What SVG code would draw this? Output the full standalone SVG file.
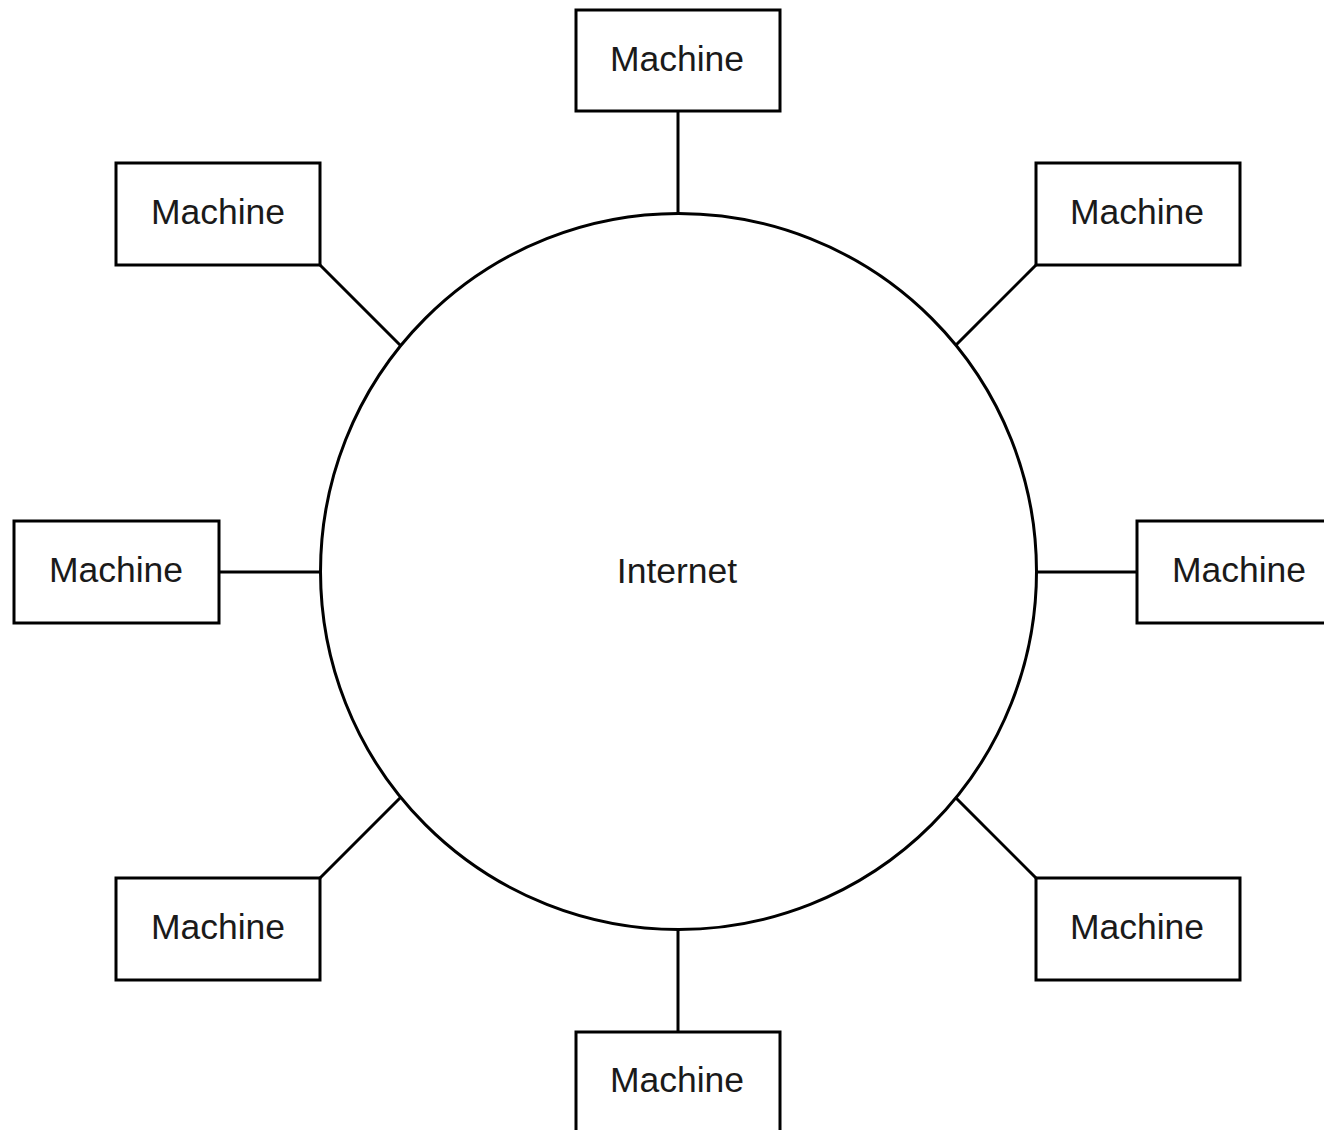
<svg xmlns="http://www.w3.org/2000/svg" width="1324" height="1130" viewBox="0 0 1324 1130">
<style>
.box{fill:#fff;stroke:#000;stroke-width:3}
.lbl{font-family:"Liberation Sans",Arial,sans-serif;font-size:35.5px;fill:#1a1a1a;text-anchor:middle}
.con{stroke:#000;stroke-width:3;fill:none}
</style>
<rect width="1324" height="1130" fill="#fff"/>
<g id="connectors">
<line class="con" x1="678" y1="111" x2="678" y2="213"/>
<line class="con" x1="678" y1="930" x2="678" y2="1032"/>
<line class="con" x1="219" y1="572" x2="321" y2="572"/>
<line class="con" x1="1036" y1="572" x2="1137" y2="572"/>
<line class="con" x1="320" y1="265" x2="401" y2="346"/>
<line class="con" x1="1036" y1="265" x2="956" y2="345"/>
<line class="con" x1="320" y1="878" x2="401" y2="797"/>
<line class="con" x1="1036" y1="878" x2="956" y2="798"/>
</g>
<g id="internet">
<circle cx="678.5" cy="571.5" r="358" fill="#fff" stroke="#000" stroke-width="3"/>
<text class="lbl" x="677" y="583">Internet</text>
</g>
<g id="machine-top"><rect class="box" x="576" y="10" width="204" height="101"/><text class="lbl" x="677" y="71">Machine</text></g>
<g id="machine-topleft"><rect class="box" x="116" y="163" width="204" height="102"/><text class="lbl" x="218" y="224">Machine</text></g>
<g id="machine-topright"><rect class="box" x="1036" y="163" width="204" height="102"/><text class="lbl" x="1137" y="224">Machine</text></g>
<g id="machine-left"><rect class="box" x="14" y="521" width="205" height="102"/><text class="lbl" x="116" y="582">Machine</text></g>
<g id="machine-right"><rect class="box" x="1137" y="521" width="200" height="102"/><text class="lbl" x="1239" y="582">Machine</text></g>
<g id="machine-bottomleft"><rect class="box" x="116" y="878" width="204" height="102"/><text class="lbl" x="218" y="939">Machine</text></g>
<g id="machine-bottomright"><rect class="box" x="1036" y="878" width="204" height="102"/><text class="lbl" x="1137" y="939">Machine</text></g>
<g id="machine-bottom"><rect class="box" x="576" y="1032" width="204" height="110"/><text class="lbl" x="677" y="1092">Machine</text></g>
</svg>
